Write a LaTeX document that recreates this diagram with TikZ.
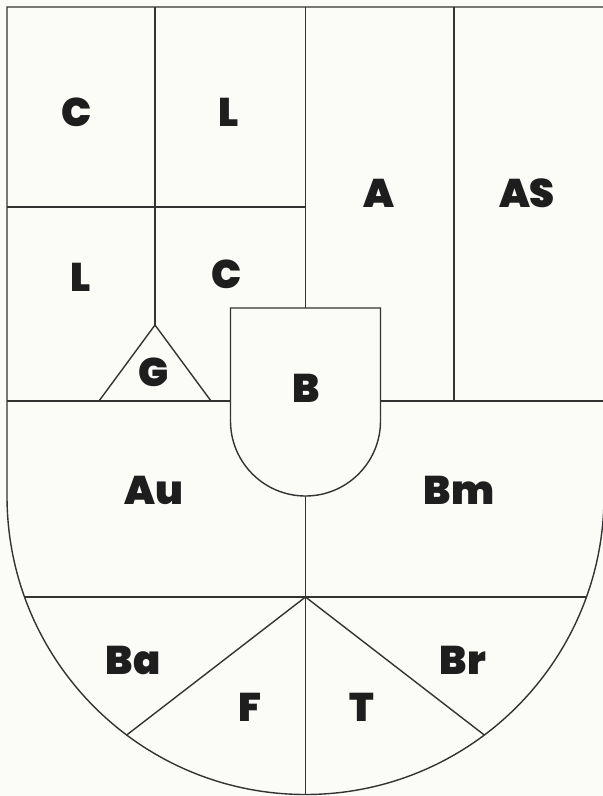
\documentclass[tikz,border=0pt]{standalone}
\usepackage{fontspec}
\newfontfamily\labfont{Poppins Black}
\definecolor{bgcol}{HTML}{FBFCF8}
\definecolor{linecol}{HTML}{333333}
\definecolor{labcol}{HTML}{1E1E1E}
\tikzset{
  edge/.style={draw=linecol, line width=1.4pt, line join=miter},
  lab/.style={font=\labfont\fontsize{40}{40}\selectfont, text=labcol, inner sep=0pt, anchor=center}
}
\begin{document}
\begin{tikzpicture}[x=1pt,y=-1pt]
\useasboundingbox (0,0) rectangle (603,796);
\fill[bgcol] (0,0) rectangle (603,796);
% key points
\coordinate (tl) at (7,7);
\coordinate (tr) at (604,7);
\coordinate (ls) at (7,496);
\coordinate (m1) at (155,7);
\coordinate (m2) at (305.5,7);
\coordinate (m3) at (454,7);
\coordinate (apex) at (155,325);
\coordinate (tb1) at (99,401);
\coordinate (tb2) at (211,401);
\coordinate (btl) at (230.5,308);
\coordinate (btr) at (380.5,308);
\coordinate (bbot) at (305.5,496);
\coordinate (J) at (305.5,597);
\coordinate (bottom) at (305.5,794.5);
% outer shield
\draw[edge] (tr) -- (tl) -- (ls) arc[start angle=180, end angle=360, radius=298.5pt] -- (tr);
% upper divisions
\draw[edge] (m1) -- (apex);
\draw[edge] (7,207) -- (305.5,207);
\draw[edge] (m2) -- (305.5,308);
\draw[edge] (m3) -- (454,401);
% fess line
\draw[edge] (7,401) -- (230.5,401);
\draw[edge] (380.5,401) -- (604,401);
% gusset triangle
\draw[edge] (tb1) -- (apex) -- (tb2);
% inescutcheon B
\draw[edge, fill=bgcol] (btl) -- (btr) -- (380.5,421) arc[start angle=0, end angle=-180, radius=75pt] -- cycle;
% lower divisions
\draw[edge] (bbot) -- (bottom);
\draw[edge] (24.6,597) -- (586.4,597);
\draw[edge] (J) -- (126.7,735);
\draw[edge] (J) -- (484.3,735);
% labels
\node[lab] (c1) at (77,112) {C};
\node[lab] (l1) at (229,112) {L};
\node[lab] (a) at (379,193) {A};
\node[lab] (as) at (527,193) {AS};
\node[lab] (l2) at (81,277) {L};
\node[lab] (c2) at (227,274) {C};
\node[lab] (g) at (154,372) {G};
\node[lab] (b) at (306,388) {B};
\node[lab] (au) at (154,490) {Au};
\node[lab] (bm) at (459,490) {Bm};
\node[lab] (ba) at (133,660) {Ba};
\node[lab] (f) at (250,707) {F};
\node[lab] (t) at (362,707) {T};
\node[lab] (br) at (463,660) {Br};
\end{tikzpicture}
\end{document}
